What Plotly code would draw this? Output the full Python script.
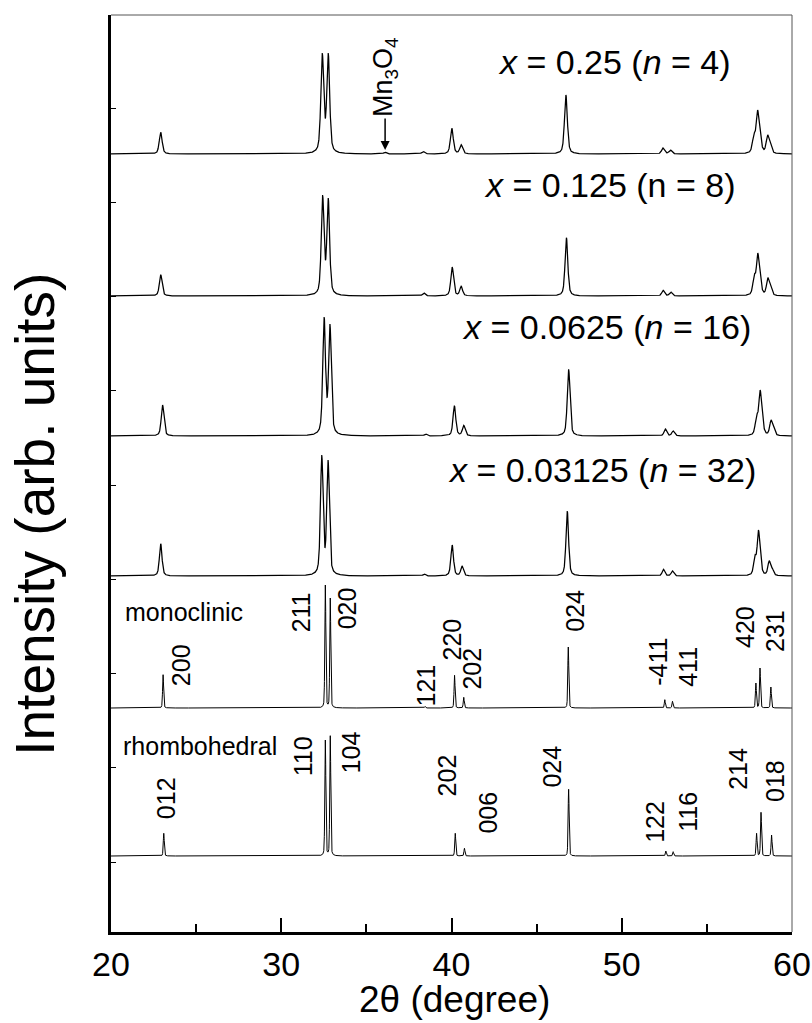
import numpy as np
import plotly.graph_objects as go

# ---------------- data ----------------
# 2theta grid for drawing the patterns
two_theta = np.arange(20.0, 60.0001, 0.005)

# experimental patterns: peak position (deg), apex height above baseline (arb.)
s025_pos = [22.92, 32.41, 32.76, 36.09, 38.33, 40.02, 40.57, 46.72, 52.42, 52.86, 57.76, 57.98, 58.14, 58.57, 58.73]
s025_h   = [21.7, 101, 101, 1.8, 2.5, 25.7, 9.3, 59, 6, 4, 21, 44, 19, 19, 10]

s0125_pos = [22.92, 32.43, 32.76, 38.37, 40.04, 40.57, 46.75, 52.43, 52.88, 57.78, 57.99, 58.14, 58.58, 58.74]
s0125_h   = [21.3, 101, 98, 3.2, 29, 9.7, 58.3, 5.7, 4, 22, 43, 19, 18.3, 9.7]

s00625_pos = [23.03, 32.52, 32.86, 38.48, 40.17, 40.72, 46.88, 52.56, 53.02, 57.92, 58.13, 58.28, 58.77, 58.93]
s00625_h   = [31, 119, 112, 2, 30.3, 10.7, 66.7, 7, 5, 22, 46, 17, 16, 7.7]

s003125_pos = [22.92, 32.38, 32.75, 38.40, 40.04, 40.62, 46.80, 52.45, 52.98, 57.82, 58.03, 58.16, 58.66, 58.85]
s003125_h   = [32.3, 121, 116, 2, 31, 10, 65, 6.7, 5, 21, 46, 19, 15.3, 7.7]

# calculated reference patterns
mono_pos = [23.06, 32.59, 32.88, 38.45, 40.18, 40.72, 46.86, 52.53, 52.98, 57.88, 58.12, 58.76]
mono_h   = [33.3, 123, 110, 1.5, 32.7, 10.7, 61, 8.3, 6.7, 25, 40, 21]

rhombo_pos = [23.10, 32.59, 32.88, 40.22, 40.76, 46.88, 52.59, 53.02, 57.92, 58.18, 58.80]
rhombo_h   = [22.7, 116, 120.3, 22.7, 7.7, 66.7, 5, 4.3, 22.7, 43.7, 21]

# vertical offsets of the stacked patterns (arb.)
offsets = {"s025": 778, "s0125": 636, "s00625": 496, "s003125": 356, "mono": 224, "rhombo": 76}

sample_labels = ["<i>x</i> = 0.25 (<i>n</i> = 4)", "<i>x</i> = 0.125 (n = 8)",
                 "<i>x</i> = 0.0625 (<i>n</i> = 16)", "<i>x</i> = 0.03125 (<i>n</i> = 32)"]
sample_label_x = [56.55, 56.85, 57.73, 58.02]
sample_label_y = [870, 747, 605, 462]

mono_hkl = ["200", "211", "020", "121", "220", "202", "024", "-411", "411", "420", "231"]
mono_hkl_x = [24.12, 31.18, 33.88, 38.53, 40.0, 41.18, 47.24, 52.12, 53.88, 57.24, 59.0]
mono_hkl_y = [267, 320, 324, 247, 292, 263, 321, 270, 265, 305, 301]

rhombo_hkl = ["012", "110", "104", "202", "006", "024", "122", "116", "214", "018"]
rhombo_hkl_x = [23.24, 31.29, 34.12, 39.76, 42.12, 45.88, 51.94, 53.88, 56.82, 59.0]
rhombo_hkl_y = [134, 176, 180, 157, 119, 165, 110, 120, 163, 151]

x_ticks = [20, 30, 40, 50, 60]


# ---------------- profile helper ----------------
def pseudo_voigt(x, c, w, eta):
    d = (x - c) / w
    return eta / (1 + 4 * d ** 2) + (1 - eta) * np.exp(-4 * np.log(2) * d ** 2)


def pattern(pos, h, w, eta, base):
    pos = np.asarray(pos, float)
    h = np.asarray(h, float)
    A = pseudo_voigt(pos[:, None], pos[None, :], w, eta)
    amp = np.clip(np.linalg.solve(A, h), 0, None)
    prof = pseudo_voigt(two_theta[:, None], pos[None, :], w, eta) @ amp
    return base + prof


FONT = "Liberation Sans, Arial, sans-serif"

fig = go.Figure()
specs = [
    (s025_pos, s025_h, 0.20, 0.5, offsets["s025"], 1.25),
    (s0125_pos, s0125_h, 0.19, 0.5, offsets["s0125"], 1.25),
    (s00625_pos, s00625_h, 0.19, 0.5, offsets["s00625"], 1.25),
    (s003125_pos, s003125_h, 0.18, 0.5, offsets["s003125"], 1.25),
    (mono_pos, mono_h, 0.07, 0.3, offsets["mono"], 1.0),
    (rhombo_pos, rhombo_h, 0.07, 0.3, offsets["rhombo"], 1.0),
]
for pos, h, w, eta, base, lw in specs:
    fig.add_trace(go.Scatter(x=two_theta, y=pattern(pos, h, w, eta, base), mode="lines",
                             line=dict(color="black", width=lw), showlegend=False,
                             hoverinfo="skip"))

ann = []
for t, x, y in zip(sample_labels, sample_label_x, sample_label_y):
    ann.append(dict(x=x, y=y, xref="x", yref="y", text=t, showarrow=False,
                    xanchor="right", yanchor="middle", font=dict(size=34, color="black", family=FONT)))
for t, x, y in zip(mono_hkl + rhombo_hkl, mono_hkl_x + rhombo_hkl_x, mono_hkl_y + rhombo_hkl_y):
    ann.append(dict(x=x, y=y, xref="x", yref="y", text=t, showarrow=False, textangle=-90,
                    xanchor="center", yanchor="middle", font=dict(size=25, color="black", family=FONT)))
ann.append(dict(x=20.7, y=320, xref="x", yref="y", text="monoclinic", showarrow=False,
                xanchor="left", yanchor="middle", font=dict(size=25, color="black", family=FONT)))
ann.append(dict(x=20.6, y=186, xref="x", yref="y", text="rhombohedral", showarrow=False,
                xanchor="left", yanchor="middle", font=dict(size=25, color="black", family=FONT)))
# Mn3O4 impurity marker with its arrow
ann.append(dict(x=36.1, y=782, xref="x", yref="y", ax=0, ay=-73, text="Mn<sub>3</sub>O<sub>4</sub>",
                showarrow=True, arrowhead=2, arrowsize=1.2, arrowwidth=1.5, arrowcolor="black",
                textangle=-90, font=dict(size=27, color="black", family=FONT)))
# axis titles
ann.append(dict(x=0, y=0.455, xref="paper", yref="paper", xshift=-76, text="Intensity (arb. units)",
                showarrow=False, textangle=-90, xanchor="center", yanchor="middle",
                font=dict(size=55, color="black", family=FONT)))
ann.append(dict(x=0.5, y=0, xref="paper", yref="paper", xshift=3, yshift=-67, text="2θ (degree)",
                showarrow=False, xanchor="center", yanchor="middle",
                font=dict(size=37, color="black", family=FONT)))

fig.update_layout(
    width=812, height=1023,
    margin=dict(l=111, r=20, t=15, b=91, autoexpand=False),
    paper_bgcolor="white", plot_bgcolor="white",
    annotations=ann,
    shapes=[
        dict(type="line", xref="paper", yref="paper", x0=0, x1=1, y0=1, y1=1,
             line=dict(color="#555555", width=1)),
        dict(type="line", xref="paper", yref="paper", x0=1, x1=1, y0=0, y1=1,
             line=dict(color="#555555", width=1)),
    ],
    xaxis=dict(range=[20, 60], tickvals=x_ticks, ticks="inside", ticklen=14, tickwidth=2,
               tickcolor="black", showline=True, linewidth=3, linecolor="black",
               showgrid=False, zeroline=False, automargin=False, ticklabelstandoff=0,
               ticklabeloverflow="allow",
               minor=dict(dtick=5, tick0=20, ticks="inside", ticklen=8, tickwidth=2, tickcolor="black"),
               tickfont=dict(size=34, color="black", family=FONT)),
    yaxis=dict(range=[0, 917], showticklabels=False, ticks="inside", tick0=70, dtick=94.25,
               ticklen=5, tickwidth=1, tickcolor="black", showline=True, linewidth=3,
               linecolor="black", showgrid=False, zeroline=False, automargin=False),
)

fig.write_html("out.html")
